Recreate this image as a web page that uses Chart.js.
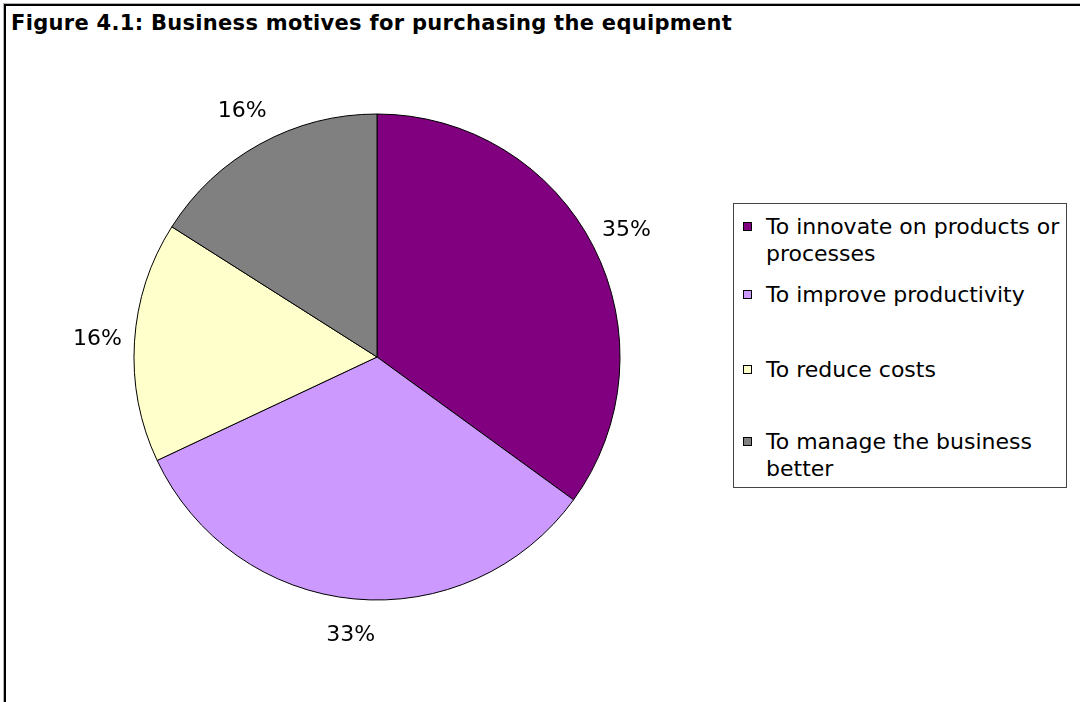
<!DOCTYPE html>
<html>
<head>
<meta charset="utf-8">
<title>Business motives for purchasing the equipment</title>
<script src="https://cdn.jsdelivr.net/npm/chart.js@4.4.1/dist/chart.umd.min.js"></script>
<style>
    html, body {
        margin: 0;
        padding: 0;
        background: #fff;
    }
    #page {
        position: relative;
        width: 1080px;
        height: 702px;
        overflow: hidden;
    }
    /* chart frame: only the top and left edges fall inside the page */
    #frame {
        position: absolute;
        left: 4px;
        top: 4px;
        width: 1200px;
        height: 800px;
        border-top: 2px solid #000;
        border-left: 2px solid #000;
        box-shadow: -1px -1px 0 #b4b4b4;
    }
    #title {
        position: absolute;
        left: 11px;
        top: 13px;
        font: bold 21px/21px "DejaVu Sans", sans-serif;
        letter-spacing: 0.3px;
        color: #000;
        white-space: nowrap;
    }
    #chart {
        position: absolute;
        left: 0;
        top: 0;
    }
    #legend {
        position: absolute;
        left: 733px;
        top: 203px;
        width: 334px;
        height: 285px;
        box-sizing: border-box;
        border: 1px solid #444;
        background: #fff;
    }
    .legend-item {
        position: absolute;
        left: 0;
        font: 22px/27px "DejaVu Sans", sans-serif;
        color: #000;
        white-space: nowrap;
    }
    .legend-item .swatch {
        position: absolute;
        left: 9px;
        top: 9px;
        width: 7px;
        height: 7px;
        border: 1px solid #000;
    }
    .legend-item .text {
        position: absolute;
        left: 32px;
        top: 0;
    }
</style>
</head>
<body>
<div id="page">
    <div id="frame"></div>
    <div id="title">Figure 4.1: Business motives for purchasing the equipment</div>
    <canvas id="chart" width="1080" height="702"></canvas>
    <div id="legend"></div>
</div>
<script>
// Survey answers, clockwise from twelve o'clock
const categories = [
    ['To innovate on products or', 'processes'],
    ['To improve productivity'],
    ['To reduce costs'],
    ['To manage the business', 'better']
];
const shares = [35, 33, 16, 16];
const sliceColors = ['#800080', '#CC99FF', '#FFFFCC', '#808080'];

// Legend rows, offsets inside the legend box
const legendRowTops = [9, 77, 152, 224];

const percentLabels = shares.map((v) => v + '%');

// Percentages written just outside each slice
const sliceLabels = {
    id: 'sliceLabels',
    afterDatasetsDraw(chart) {
        const { ctx } = chart;
        const meta = chart.getDatasetMeta(0);
        ctx.save();
        ctx.font = '22px "DejaVu Sans"';
        ctx.fillStyle = '#000';
        ctx.textAlign = 'center';
        ctx.textBaseline = 'middle';
        meta.data.forEach((arc, i) => {
            const { x, y, startAngle, endAngle, outerRadius } =
                arc.getProps(['x', 'y', 'startAngle', 'endAngle', 'outerRadius'], true);
            const mid = (startAngle + endAngle) / 2;
            const r = outerRadius + 37;
            ctx.fillText(percentLabels[i], x + Math.cos(mid) * r, y + Math.sin(mid) * r);
        });
        ctx.restore();
    }
};

const ctx = document.getElementById('chart').getContext('2d');
new Chart(ctx, {
    type: 'pie',
    data: {
        labels: categories,
        datasets: [{
            data: shares,
            backgroundColor: sliceColors,
            borderColor: '#000',
            borderWidth: 1
        }]
    },
    options: {
        responsive: false,
        animation: false,
        radius: 243,
        layout: {
            padding: { left: 110, right: 436, top: 110, bottom: 98 }
        },
        plugins: {
            legend: { display: false },
            tooltip: { enabled: false }
        }
    },
    plugins: [sliceLabels]
});

// Legend box beside the pie
const legendBox = document.getElementById('legend');
categories.forEach((lines, i) => {
    const item = document.createElement('div');
    item.className = 'legend-item';
    item.style.top = legendRowTops[i] + 'px';

    const swatch = document.createElement('span');
    swatch.className = 'swatch';
    swatch.style.background = sliceColors[i];

    const text = document.createElement('span');
    text.className = 'text';
    text.innerHTML = lines.join('<br>');

    item.appendChild(swatch);
    item.appendChild(text);
    legendBox.appendChild(item);
});
</script>
</body>
</html>
